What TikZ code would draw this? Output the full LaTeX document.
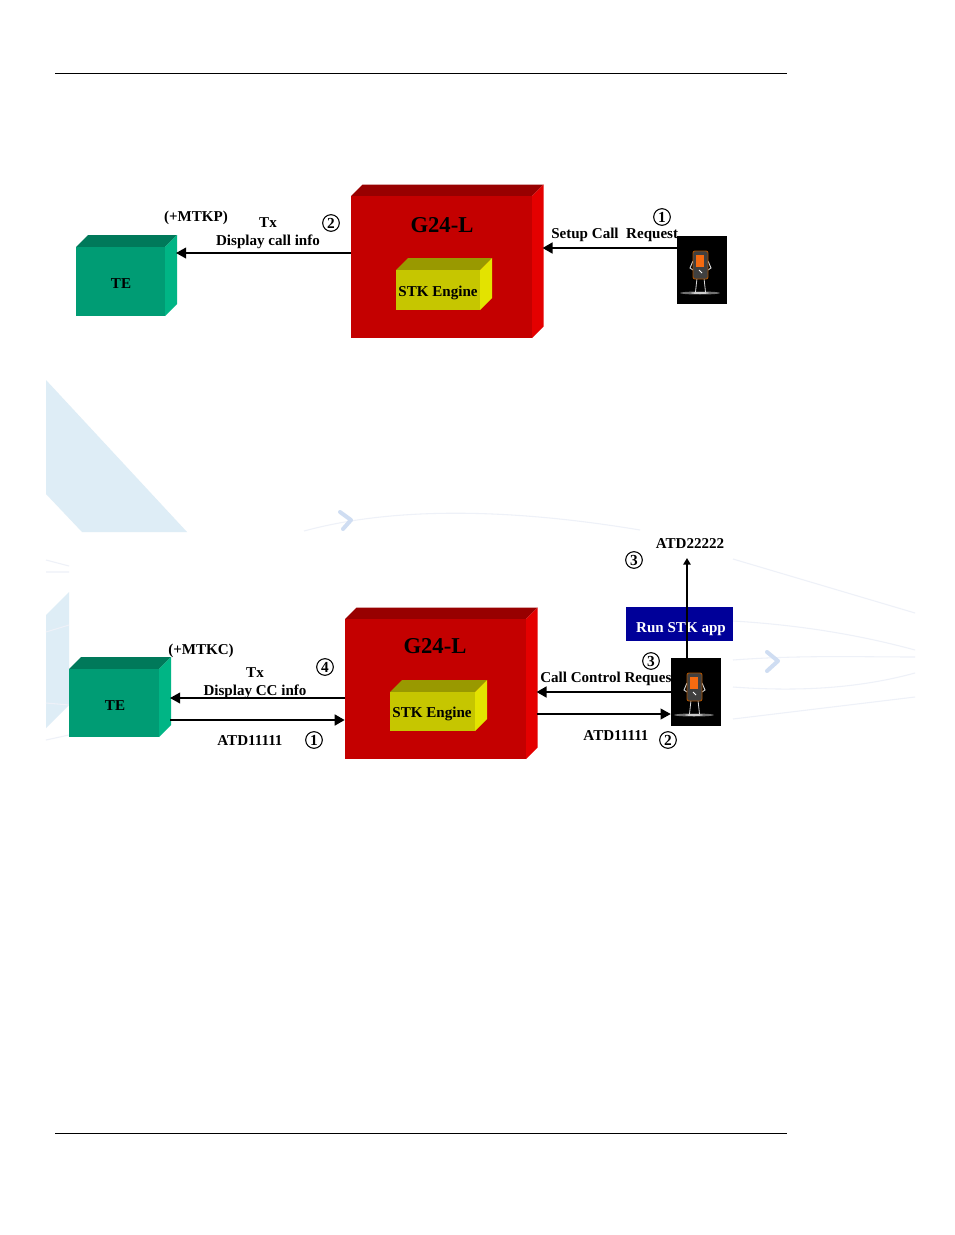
\documentclass[tikz,border=0pt]{standalone}
\usepackage{fontspec}
\setmainfont{Liberation Serif}
\usetikzlibrary{arrows.meta}
\definecolor{gfront}{HTML}{C40000}\definecolor{gtop}{HTML}{980000}\definecolor{gside}{HTML}{E40000}
\definecolor{tfront}{HTML}{009C74}\definecolor{ttop}{HTML}{00795A}\definecolor{tside}{HTML}{00B585}
\definecolor{sfront}{HTML}{C6C600}\definecolor{stop}{HTML}{999900}\definecolor{sside}{HTML}{E3E300}
\definecolor{runblue}{HTML}{000099}\definecolor{wmA}{HTML}{DEEDF6}\definecolor{wmB}{HTML}{EEF1F8}\definecolor{wmC}{HTML}{CFDDF2}
\definecolor{phoneedge}{HTML}{A85000}\definecolor{phonescreen}{HTML}{F56A10}
\tikzset{
  x=0.75pt,y=-0.75pt,
  lbl/.style={font=\bfseries\fontsize{11.3}{13}\selectfont,inner sep=0pt,text=black,yshift=-0.75pt},
  biglbl/.style={font=\bfseries\fontsize{17}{20}\selectfont,inner sep=0pt,text=black},
  num/.style={circle,draw=black,line width=0.8pt,minimum size=12.5pt,inner sep=0pt,font=\bfseries\fontsize{11.5}{12}\selectfont},
  wire/.style={line width=1.1pt,draw=black},
  heavy/.style={line width=1.8pt,draw=black},
  tip/.style={-{Triangle[length=7.5pt,width=8pt]}},
  faint/.style={draw=wmB,line width=0.8pt},
  chev/.style={draw=wmC,line width=3pt,line cap=round,line join=round},
}
% name, x, y, w, h, depth, front, top, side
\newcommand{\cubebox}[9]{%
  \fill[#8] (#2,#3) -- ++(#6,-#6) -- ++(#4,0) -- ++(-#6,#6) -- cycle;
  \fill[#9] (#2+#4,#3) -- ++(#6,-#6) -- ++(0,#5) -- ++(-#6,#6) -- cycle;
  \node[fill=#7,inner sep=0pt,minimum width=#4*0.75pt,minimum height=#5*0.75pt] (#1) at (#2+#4/2,#3+#5/2) {};
  \coordinate (#1-side) at (#2+#4+#6-1,#3+#5/2);
}
\newcommand{\phonepic}[2]{%
  \node[fill=black,inner sep=0pt,minimum width=37.5pt,minimum height=51pt] (#1) at ([xshift=18.75pt,yshift=-25.5pt]#2) {};
  \begin{scope}[shift={(#2)}]
    \fill[white!45!black] (23,57) ellipse (20 and 1.5);
    \fill[white!80!black] (23,57) ellipse (9 and 1);
    \draw[white!85!black,line width=0.6pt] (20,42) -- (18.5,56) (27,42) -- (28.5,56);
    \draw[white!85!black,line width=0.7pt] (16,25) -- (13,32) -- (16,34) (31,25) -- (34,32) -- (31,34);
    \fill[black!75,draw=phoneedge,line width=0.7pt,rounded corners=1.5pt] (16,15) rectangle (31,43);
    \fill[phonescreen] (18.5,19) rectangle (27,31);
    \draw[white,line width=0.6pt] (22,34) -- (25,37);
  \end{scope}
}
\begin{document}
\begin{tikzpicture}
\useasboundingbox (0,0) rectangle (954,1235);
\fill[white] (0,0) rectangle (954,1235);
% watermark
\fill[wmA] (46,380) -- (187,532) -- (82,532) -- (46,494) -- cycle;
\fill[wmA] (46,615) -- (69,592) -- (69,705) -- (46,728) -- cycle;
\draw[faint] (46,560) -- (69,566) (46,572) -- (69,572) (46,632) -- (69,625) (46,703) -- (69,705) (46,740) -- (69,735);
\draw[faint] (304,531) .. controls (400,505) and (520,510) .. (640,530);
\draw[faint] (733,559) -- (915,613);
\draw[faint] (733,621) .. controls (800,625) and (860,635) .. (915,650);
\draw[faint] (733,660) .. controls (800,655) and (860,657) .. (915,657);
\draw[faint] (733,687) .. controls (800,692) and (860,688) .. (915,673);
\draw[faint] (733,719) -- (915,697);
\draw[chev] (340,512) -- (351,520) -- (343,529);
\draw[chev] (767,652) -- (778,661) -- (767,671);
% rules
\coordinate (ruleTopA) at (55,73);\coordinate (ruleTopB) at (787,73);
\coordinate (ruleBotA) at (55,1133);\coordinate (ruleBotB) at (787,1133);
\draw[black,line width=0.75pt] (ruleTopA) -- (ruleTopB);
\draw[black,line width=0.75pt] (ruleBotA) -- (ruleBotB);
% upper diagram
\cubebox{teA}{76}{247}{89}{69}{12}{tfront}{ttop}{tside}
\cubebox{gA}{351}{196}{181}{142}{11.5}{gfront}{gtop}{gside}
\cubebox{stkA}{396}{270}{84}{40}{12}{sfront}{stop}{sside}
\node[lbl] (teAt) at (121,283) {TE};
\node[biglbl] (gAt) at (442,225) {G24-L};
\node[lbl] (stkAt) at (438,292) {STK Engine};
\node[lbl] (mtkp) at (196,217) {(+MTKP)};
\node[lbl] (txA) at (268,222) {Tx};
\node[lbl] (dispA) at (268,241) {Display call info};
\node[num] (nA2) at (331,223) {2};
\node[num] (nA1) at (662,217) {1};
\node[lbl,anchor=west] (setup) at (551,234) {Setup Call\ \ Request};
\phonepic{phA}{677,236}
\draw[wire,tip] (gA.west |- 0,253) -- (teA-side |- 0,253);
\draw[heavy,tip] (phA.west |- 0,248) -- (gA-side |- 0,248);
% lower diagram
\cubebox{teB}{69}{669}{90}{68}{12}{tfront}{ttop}{tside}
\cubebox{gB}{345}{619}{181}{140}{11.5}{gfront}{gtop}{gside}
\cubebox{stkB}{390}{692}{85}{39}{12}{sfront}{stop}{sside}
\node[lbl] (teBt) at (115,705) {TE};
\node[biglbl] (gBt) at (435,646) {G24-L};
\node[lbl] (stkBt) at (432,713) {STK Engine};
\node[lbl] (mtkc) at (201,650) {(+MTKC)};
\node[lbl] (txB) at (255,672) {Tx};
\node[lbl] (dispB) at (255,691) {Display CC info};
\node[num] (nB4) at (325,667) {4};
\node[lbl] (atdA) at (250,740) {ATD11111};
\node[num] (nB1) at (314,740) {1};
\node[lbl] (atdC) at (690,543) {ATD22222};
\node[num] (nB3a) at (634,560) {3};
\node[fill=runblue,inner sep=0pt,minimum width=80.25pt,minimum height=25.5pt] (run) at (679.5,624) {};
\node[lbl,text=white] (runt) at (681,628) {Run STK app};
\node[num] (nB3b) at (651,661) {3};
\node[lbl,anchor=west] (ccr) at (540,678) {Call Control Reques};
\node[lbl] (atdB) at (616,735) {ATD11111};
\node[num] (nB2) at (668,740) {2};
\phonepic{phB}{671,658}
\coordinate (atdCfoot) at (687,558);
\draw[wire,tip] (gB.west |- 0,698) -- (teB-side |- 0,698);
\draw[heavy,tip] (teB-side |- 0,720) -- (gB.west |- 0,720);
\draw[heavy,tip] (phB.west |- 0,692) -- (gB-side |- 0,692);
\draw[wire,tip] (gB-side |- 0,714) -- (phB.west |- 0,714);
\draw[heavy,-{Triangle[length=5pt,width=5.5pt]}] (phB.north -| atdCfoot) -- (atdCfoot);
\end{tikzpicture}
\end{document}
